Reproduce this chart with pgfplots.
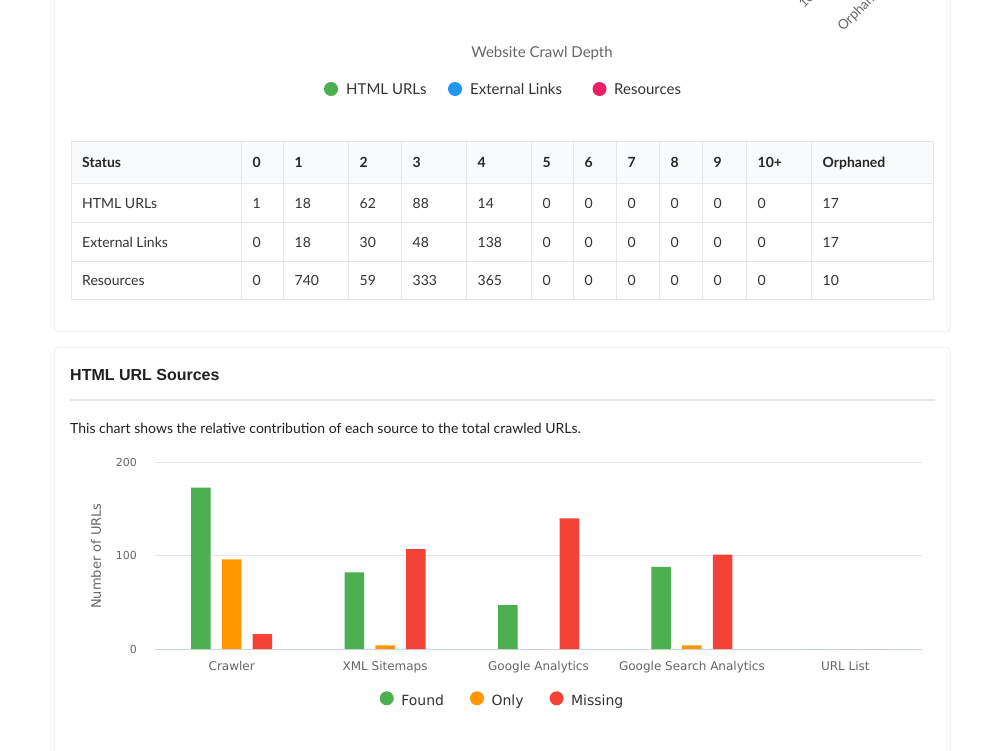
\documentclass[border=0pt]{standalone}
\usepackage{fontspec}
\setmainfont{Lato}
\newfontfamily\dejavu{DejaVu Sans}
\newfontfamily\arialf{Liberation Sans}
\usepackage{pgfplots}
\pgfplotsset{compat=1.18}
\definecolor{foundc}{HTML}{4CAF50}
\definecolor{onlyc}{HTML}{FF9800}
\definecolor{missc}{HTML}{F44336}
\definecolor{bluec}{HTML}{2196F3}
\definecolor{pinkc}{HTML}{E91E63}
\definecolor{cardb}{HTML}{DDDDDD}
\definecolor{tabb}{HTML}{E6E6E6}
\definecolor{tabh}{HTML}{F9FAFB}
\definecolor{txt}{HTML}{333333}
\definecolor{grey6}{HTML}{666666}
\definecolor{gridc}{HTML}{E6E6E6}
\definecolor{axc}{HTML}{CCD6EB}
\begin{document}
\begin{tikzpicture}
\useasboundingbox (0,0) rectangle (1000pt,-750pt);
\clip (0,0) rectangle (1000pt,-750pt);
\fill[white] (0,0) rectangle (1000pt,-750pt);
\begin{scope}[x=1pt,y=-1pt]
% cards
\draw[cardb, rounded corners=4pt] (54.5,-20) rectangle (950.5,331.5);
\draw[cardb, rounded corners=4pt] (54.5,347.5) rectangle (950.5,780);
% cut-off labels of the upper chart
\node[rotate=45, anchor=base west, inner sep=0pt, font=\fontsize{13}{15}\selectfont, text=grey6] at (804,9) {10+};
\node[rotate=45, anchor=base west, inner sep=0pt, font=\fontsize{13.5}{15}\selectfont, text=grey6] at (843,32) {Orphaned};
\node[font=\fontsize{15}{18}\selectfont, text=grey6] at (542,53) {Website Crawl Depth};
% upper legend
\fill[foundc] (331,89) circle (7);
\fill[bluec] (455,89) circle (7);
\fill[pinkc] (599.5,89) circle (7);
\node[anchor=base west, inner sep=0pt, font=\fontsize{15}{18}\selectfont, text=txt] at (346,94.4) {HTML URLs};
\node[anchor=base west, inner sep=0pt, font=\fontsize{15}{18}\selectfont, text=txt] at (470,94.4) {External Links};
\node[anchor=base west, inner sep=0pt, font=\fontsize{15}{18}\selectfont, text=txt] at (614,94.4) {Resources};
% table
\fill[tabh] (70.7,140.7) rectangle (933.3,183.3);
\draw[tabb] (70.7,140.7) rectangle (933.3,299.5);
\foreach \yy in {183.3,222,261} \draw[tabb] (70.7,\yy) -- (933.3,\yy);
\foreach \xx in {241,283,348,401,466,531,573,616,659,702,746,811} \draw[tabb] (\xx,140.7) -- (\xx,299.5);
\foreach \xx/\tt in {82/Status,252.5/0,294.5/1,359.5/2,412.5/3,477.5/4,542.5/5,584.5/6,627.5/7,670.5/8,713.5/9,757.5/10+,822.5/Orphaned}
  \node[anchor=base west, inner sep=0pt, font=\fontsize{14}{17}\selectfont\bfseries, text=black!85] at (\xx,167) {\tt};
\foreach \xx/\tt in {82/HTML URLs,252.5/1,294.5/18,359.5/62,412.5/88,477.5/14,542.5/0,584.5/0,627.5/0,670.5/0,713.5/0,757.5/0,822.5/17}
  \node[anchor=base west, inner sep=0pt, font=\fontsize{14}{17}\selectfont, text=txt] at (\xx,208) {\tt};
\foreach \xx/\tt in {82/External Links,252.5/0,294.5/18,359.5/30,412.5/48,477.5/138,542.5/0,584.5/0,627.5/0,670.5/0,713.5/0,757.5/0,822.5/17}
  \node[anchor=base west, inner sep=0pt, font=\fontsize{14}{17}\selectfont, text=txt] at (\xx,247) {\tt};
\foreach \xx/\tt in {82/Resources,252.5/0,294.5/740,359.5/59,412.5/333,477.5/365,542.5/0,584.5/0,627.5/0,670.5/0,713.5/0,757.5/0,822.5/10}
  \node[anchor=base west, inner sep=0pt, font=\fontsize{14}{17}\selectfont, text=txt] at (\xx,285) {\tt};
% second card header
\node[anchor=base west, inner sep=0pt, font=\arialf\bfseries\fontsize{16}{19}\selectfont, text=black!87] at (70,380.5) {HTML URL Sources};
\draw[tabb, line width=1.5pt] (70,400) -- (935,400);
\node[anchor=base west, inner sep=0pt, font=\fontsize{14}{17}\selectfont, text=black!87] at (70,433) {This chart shows the relative contribution of each source to the total crawled URLs.};
\end{scope}
\begin{axis}[
  at={(155pt,-649pt)}, anchor=south west,
  scale only axis, width=767pt, height=186.7pt,
  xmin=-0.5, xmax=4.5, ymin=0, ymax=200,
  axis x line*=bottom, axis y line*=left,
  x axis line style={draw=axc, line width=1pt, -},
  y axis line style={draw=none},
  xtick={0,1,2,3,4},
  xticklabels={Crawler, XML Sitemaps, Google Analytics, Google Search Analytics, URL List},
  ytick={0,100,200},
  major tick length=0pt,
  ymajorgrids, grid style={gridc, line width=0.8pt},
  /pgf/number format/assume math mode=true,
  tick label style={font=\dejavu\fontsize{12}{14}\selectfont, text=grey6},
  yticklabel style={font=\dejavu\fontsize{11}{13}\selectfont, anchor=east, inner sep=0pt, xshift=-18pt},
  xticklabel style={anchor=base, inner sep=0pt, yshift=-21pt},
  ylabel={Number of URLs},
  ylabel style={at={(axis description cs:-0.0769,0.498)}, anchor=center, font=\dejavu\fontsize{13}{15}\selectfont, text=grey6},
  legend style={at={(axis description cs:0.4531,-0.2735)}, anchor=center, draw=none, fill=none,
    font=\dejavu\fontsize{14}{16}\selectfont, text=txt,
    /tikz/every odd column/.append style={column sep=5.5pt},
    /tikz/every even column/.append style={column sep=24pt}},
  legend columns=3,
]
\addplot[ybar, bar width=19.5pt, bar shift=-30.75pt, fill=foundc, draw=none,
  legend image code/.code={\fill[foundc] (0pt,2.5pt) circle (7pt);}]
  coordinates {(0,173) (1,82) (2,47) (3,88) (4,0)};
\addlegendentry{Found}
\addplot[ybar, bar width=19.5pt, bar shift=0pt, fill=onlyc, draw=none,
  legend image code/.code={\fill[onlyc] (0pt,2.5pt) circle (7pt);}]
  coordinates {(0,96) (1,4) (2,0) (3,4) (4,0)};
\addlegendentry{Only}
\addplot[ybar, bar width=19.5pt, bar shift=30.75pt, fill=missc, draw=none,
  legend image code/.code={\fill[missc] (0pt,2.5pt) circle (7pt);}]
  coordinates {(0,16) (1,107) (2,140) (3,101) (4,0)};
\addlegendentry{Missing}
\end{axis}
\end{tikzpicture}
\end{document}
